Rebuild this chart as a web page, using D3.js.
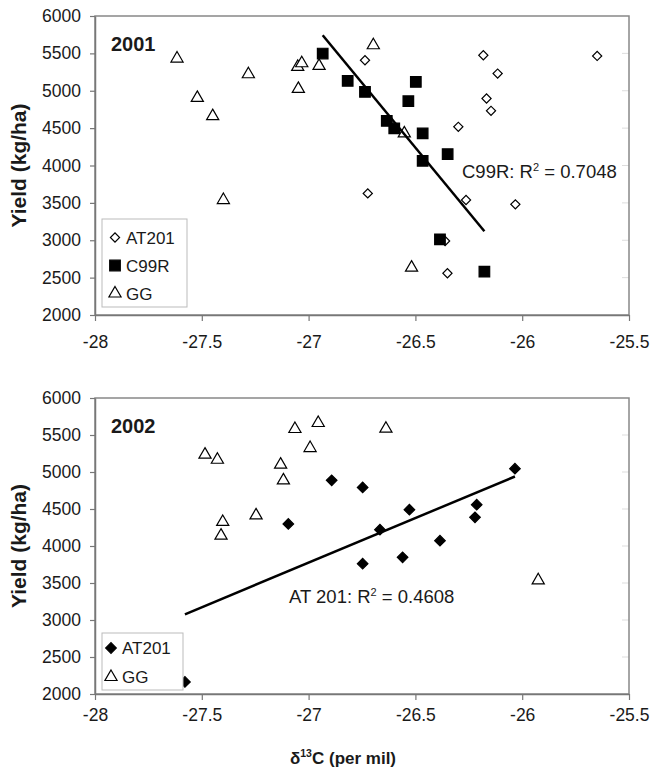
<!DOCTYPE html>
<meta charset="utf-8">
<style>
body { margin: 0; background: #fff; }
text { font-family: "Liberation Sans", Arial, sans-serif; fill: #1a1a1a; }
.bold { font-weight: bold; }
</style>
<body>
<svg width="652" height="776"></svg>
</body>
<script src="https://d3js.org/d3.v7.min.js"></script>
<script>

// delta 13C (per mil) vs yield (kg/ha)
var xTicks = [-28, -27.5, -27, -26.5, -26, -25.5];
var yTicks = [2000, 2500, 3000, 3500, 4000, 4500, 5000, 5500, 6000];

// 2001
var at201_2001 = [[-26.736,5408],[-26.723,3627],[-26.182,5475],[-25.649,5466],[-26.115,5230],[-26.167,4896],
                  [-26.146,4731],[-26.299,4517],[-26.263,3538],[-26.032,3480],[-26.361,2990],[-26.350,2558]];
var c99r_2001 = [[-26.934,5498],[-26.817,5132],[-26.736,4985],[-26.498,5118],[-26.533,4860],[-26.634,4597],
                 [-26.599,4496],[-26.466,4429],[-26.349,4152],[-26.466,4063],[-26.385,3013],[-26.177,2580]];
var gg_2001 = [[-27.616,5431],[-27.521,4905],[-27.449,4660],[-27.282,5221],[-27.399,3538],[-27.051,5319],
               [-27.032,5368],[-27.048,5025],[-26.951,5332],[-26.697,5609],[-26.552,4429],[-26.518,2633]];

// 2002
var at201_2002 = [[-26.892,4887],[-26.747,4792],[-27.095,4298],[-26.747,3761],[-27.579,2163],[-26.528,4491],
                  [-26.666,4221],[-26.560,3847],[-26.385,4072],[-26.213,4558],[-26.221,4387],[-26.034,5045]];
var gg_2002 = [[-27.485,5234],[-27.427,5166],[-27.064,5581],[-26.955,5662],[-26.993,5324],[-27.131,5099],
               [-27.118,4887],[-27.402,4325],[-27.410,4140],[-27.246,4414],[-26.638,5585],[-25.925,3536]];

var svg = d3.select("svg");

var markers = {
  diamondOpen:  {type: d3.symbolSquare, size: 42, rot: 45, fill: "#fff"},
  diamondFill:  {type: d3.symbolSquare, size: 56, rot: 45, fill: "#000"},
  square:       {type: d3.symbolSquare, size: 112, rot: 0, fill: "#000"},
  triangle:     {type: d3.symbolTriangle, size: 64, rot: 0, fill: "#fff"}
};

function fitLine(pts) {
  var mx = d3.mean(pts, d => d[0]), my = d3.mean(pts, d => d[1]);
  var sxy = d3.sum(pts, d => (d[0] - mx) * (d[1] - my));
  var sxx = d3.sum(pts, d => (d[0] - mx) * (d[0] - mx));
  var b = sxy / sxx, a = my - b * mx;
  return d3.extent(pts, d => d[0]).map(v => [v, a + b * v]);
}

function symbolAt(g, m, cx, cy) {
  g.append("path")
    .attr("d", d3.symbol().type(m.type).size(m.size)())
    .attr("transform", "translate(" + cx + "," + cy + ") rotate(" + m.rot + ")")
    .attr("fill", m.fill)
    .attr("stroke", "#000")
    .attr("stroke-width", 1.2);
}

function panel(cfg) {
  var x = d3.scaleLinear().domain([-28, -25.5]).range([95, 629]);
  var y = d3.scaleLinear().domain([2000, 6000]).range([cfg.bottom, cfg.top]);
  var g = svg.append("g");

  // faint right-hand ticks
  g.selectAll(".rt").data(yTicks.slice(1, -1)).enter().append("line")
    .attr("x1", 622).attr("x2", 629)
    .attr("y1", d => y(d)).attr("y2", d => y(d))
    .attr("stroke", "#ddd");

  g.append("rect")
    .attr("x", 95).attr("y", cfg.top)
    .attr("width", 534).attr("height", cfg.bottom - cfg.top)
    .attr("fill", "none").attr("stroke", "#888").attr("stroke-width", 1.5);

  var xa = g.append("g").attr("transform", "translate(0," + cfg.bottom + ")")
    .call(d3.axisBottom(x).tickValues(xTicks).tickSize(6).tickSizeOuter(0)
      .tickPadding(cfg.xPad).tickFormat(d => String(d)));
  var ya = g.append("g").attr("transform", "translate(95,0)")
    .call(d3.axisLeft(y).tickValues(yTicks).tickSize(5).tickSizeOuter(0)
      .tickPadding(9).tickFormat(d => String(d)));
  [xa, ya].forEach(function(a) {
    a.select(".domain").attr("stroke", "#777").attr("stroke-width", 1.5);
    a.selectAll(".tick line").attr("stroke", "#777").attr("stroke-width", 1.2);
    a.selectAll("text").attr("font-size", 17.5).attr("fill", "#1a1a1a")
      .attr("font-family", "Liberation Sans, Arial, sans-serif");
  });

  // y title
  g.append("text").attr("class", "bold")
    .attr("transform", "translate(26," + (cfg.top + cfg.bottom) / 2 + ") rotate(-90)")
    .attr("text-anchor", "middle").attr("font-size", 21)
    .text("Yield (kg/ha)");

  // year
  g.append("text").attr("class", "bold")
    .attr("x", 111).attr("y", cfg.top + 35).attr("font-size", 20)
    .text(cfg.year);

  // points
  cfg.series.forEach(function(s) {
    s.data.forEach(function(d) { symbolAt(g, markers[s.marker], x(d[0]), y(d[1])); });
  });

  // trend line
  var line = d3.line().x(d => x(d[0])).y(d => y(d[1]));
  g.append("path").datum(fitLine(cfg.fit)).attr("d", line)
    .attr("fill", "none").attr("stroke", "#000").attr("stroke-width", 2.5);

  var t = g.append("text").attr("x", cfg.labelX).attr("y", cfg.labelY).attr("font-size", 18.5);
  t.append("tspan").text(cfg.label + ": R");
  t.append("tspan").attr("dy", -7).attr("font-size", 11).text("2");
  t.append("tspan").attr("dy", 7).text(" = " + cfg.r2);

  // legend
  var L = cfg.legend;
  var lg = g.append("g").attr("transform", "translate(" + L.x + "," + L.y + ")");
  lg.append("rect").attr("width", L.w).attr("height", L.h)
    .attr("fill", "#fff").attr("stroke", "#bbb");
  cfg.series.forEach(function(s, i) {
    var cy = L.first + i * L.step;
    symbolAt(lg, markers[s.marker], L.sym, cy);
    lg.append("text").attr("x", L.txt).attr("y", cy + 6).attr("font-size", 17).text(s.name);
  });
}

panel({
  top: 16, bottom: 315, year: "2001", xPad: 15,
  series: [
    {name: "AT201", marker: "diamondOpen", data: at201_2001},
    {name: "C99R", marker: "square", data: c99r_2001},
    {name: "GG", marker: "triangle", data: gg_2001}
  ],
  fit: c99r_2001, label: "C99R", r2: "0.7048", labelX: 462, labelY: 178,
  legend: {x: 102, y: 219, w: 85, h: 88, first: 18.5, step: 28, sym: 13, txt: 24}
});

panel({
  top: 398, bottom: 694, year: "2002", xPad: 9,
  series: [
    {name: "AT201", marker: "diamondFill", data: at201_2002},
    {name: "GG", marker: "triangle", data: gg_2002}
  ],
  fit: at201_2002, label: "AT 201", r2: "0.4608", labelX: 289, labelY: 603,
  legend: {x: 102, y: 633, w: 81, h: 57, first: 15, step: 29, sym: 9, txt: 20}
});

// x title
var xt = svg.append("text").attr("class", "bold")
  .attr("x", 343).attr("y", 764).attr("text-anchor", "middle").attr("font-size", 17);
xt.append("tspan").text("\u03B4");
xt.append("tspan").attr("dy", -7).attr("font-size", 10.5).text("13");
xt.append("tspan").attr("dy", 7).text("C (per mil)");

</script>
